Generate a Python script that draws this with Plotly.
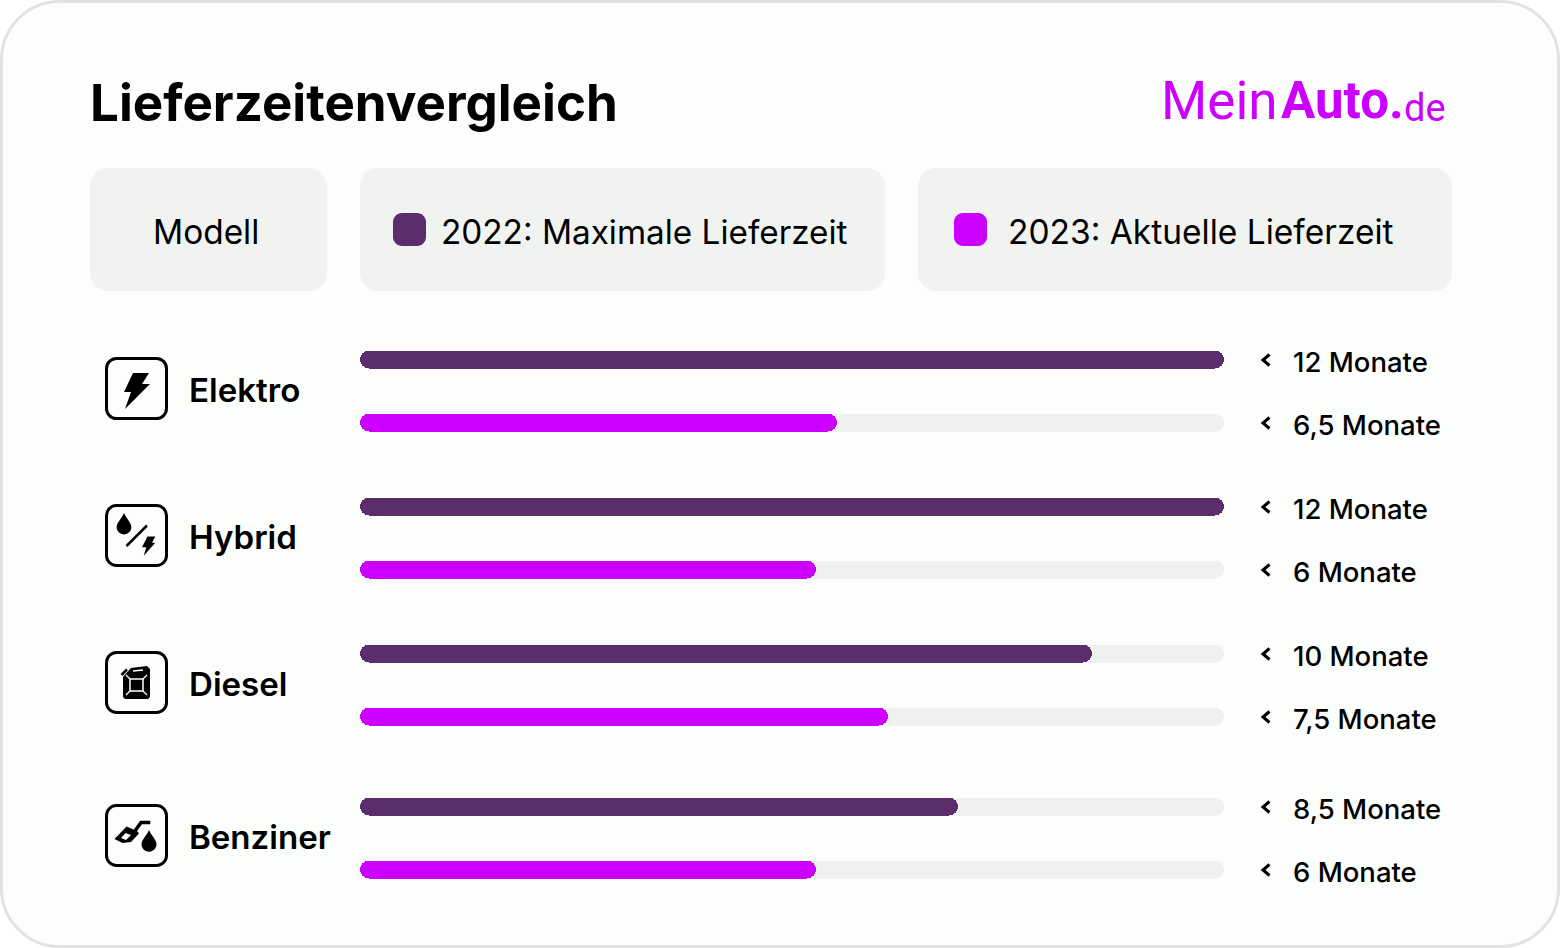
import plotly.graph_objects as go

W = 1560
H = 948

models = ["Elektro", "Hybrid", "Diesel", "Benziner"]
series_2022 = "2022: Maximale Lieferzeit"
series_2023 = "2023: Aktuelle Lieferzeit"
# bar lengths in percent of the grey track, the source does not scale them strictly by month
bars_2022 = [100, 100, 84.7, 69.2]
bars_2023 = [55.2, 52.8, 61.1, 52.8]
track = [100, 100, 100, 100]
labels_2022 = ["12 Monate", "12 Monate", "10 Monate", "8,5 Monate"]
labels_2023 = ["6,5 Monate", "6 Monate", "7,5 Monate", "6 Monate"]

PURPLE = "#5c2d6c"
MAGENTA = "#cc00ff"
TRACK = "#eff1ef"
CARD = "#fcfefc"
HEAD = "#f1f3f1"
BORDER = "#e2e3e1"
FONT = "Inter"
LOGO = "Roboto"


def px(x):
    return x / W


def py(y):
    return 1 - y / H


def path(points, close=True):
    s = "M " + " L ".join(f"{px(x):.5f} {py(y):.5f}" for x, y in points)
    return s + (" Z" if close else "")


def rounded(x0, y0, x1, y1, r):
    # rounded rectangle from pixel corners
    k = 0.45 * r
    seg = [
        ("M", [(x0 + r, y0)]),
        ("L", [(x1 - r, y0)]),
        ("C", [(x1 - k, y0), (x1, y0 + k), (x1, y0 + r)]),
        ("L", [(x1, y1 - r)]),
        ("C", [(x1, y1 - k), (x1 - k, y1), (x1 - r, y1)]),
        ("L", [(x0 + r, y1)]),
        ("C", [(x0 + k, y1), (x0, y1 - k), (x0, y1 - r)]),
        ("L", [(x0, y0 + r)]),
        ("C", [(x0, y0 + k), (x0 + k, y0), (x0 + r, y0)]),
    ]
    out = ""
    for cmd, pts in seg:
        out += cmd + " " + " ".join(f"{px(a):.5f} {py(b):.5f}" for a, b in pts) + " "
    return out + "Z"


def box(x0, y0, x1, y1, r, fill, line=None, lw=0):
    return dict(type="path", xref="paper", yref="paper", path=rounded(x0, y0, x1, y1, r),
                fillcolor=fill, line=dict(color=line or fill, width=lw), layer="below")


def poly(points, ox, oy, fill="black"):
    pts = [(ox + a, oy + b) for a, b in points]
    return dict(type="path", xref="paper", yref="paper", path=path(pts), fillcolor=fill,
                line=dict(width=0), layer="above")


def stroke(points, ox, oy, color="black", lw=3):
    pts = [(ox + a, oy + b) for a, b in points]
    return dict(type="path", xref="paper", yref="paper", path=path(pts, False),
                line=dict(color=color, width=lw), layer="above")


def drop(cx, top, bottom, r, ox, oy):
    # water drop, pixel values relative to the icon box
    mid = bottom - r
    x = ox + cx
    s = f"M {px(x):.5f} {py(oy + top):.5f} "
    s += f"C {px(x - r * 0.3):.5f} {py(oy + top + (mid - top) * 0.4):.5f} {px(x - r):.5f} {py(oy + mid - r * 0.6):.5f} {px(x - r):.5f} {py(oy + mid):.5f} "
    s += f"C {px(x - r):.5f} {py(oy + bottom - r * 0.4):.5f} {px(x - r * 0.5):.5f} {py(oy + bottom):.5f} {px(x):.5f} {py(oy + bottom):.5f} "
    s += f"C {px(x + r * 0.5):.5f} {py(oy + bottom):.5f} {px(x + r):.5f} {py(oy + bottom - r * 0.4):.5f} {px(x + r):.5f} {py(oy + mid):.5f} "
    s += f"C {px(x + r):.5f} {py(oy + mid - r * 0.6):.5f} {px(x + r * 0.3):.5f} {py(oy + top + (mid - top) * 0.4):.5f} {px(x):.5f} {py(oy + top):.5f} Z"
    return dict(type="path", xref="paper", yref="paper", path=s, fillcolor="black", line=dict(width=0))


def icon_elektro(ox, oy):
    return [poly([(27, 15), (43, 15), (36, 26), (44, 26), (19, 51), (25, 34), (18, 34)], ox, oy)]


def icon_hybrid(ox, oy):
    return [
        drop(18, 8, 29.5, 7.4, ox, oy),
        stroke([(20.5, 41), (41, 20.5)], ox, oy, lw=2.5),
        poly([(41.5, 31.5), (49.3, 31.5), (46, 37.7), (49.3, 37.7), (37.7, 50.7), (40.3, 42.3), (36, 42.3)], ox, oy),
    ]


def icon_diesel(ox, oy):
    return [
        poly([(25, 16), (41, 14), (44, 17), (44, 45), (42, 47), (19, 47), (17, 45), (17, 25)], ox, oy),
        stroke([(15.5, 23), (21, 17.5)], ox, oy, lw=2.5),
        stroke([(27, 19), (37, 18)], ox, oy, color="white", lw=1.5),
        stroke([(24, 27), (37, 27), (37, 39), (24, 39), (24, 27)], ox, oy, color="white", lw=1.5),
        stroke([(20, 23), (24, 27)], ox, oy, color="white", lw=1.2),
        stroke([(41, 23), (37, 27)], ox, oy, color="white", lw=1.2),
        stroke([(20, 43), (24, 39)], ox, oy, color="white", lw=1.2),
        stroke([(41, 43), (37, 39)], ox, oy, color="white", lw=1.2),
    ]


def icon_benzin(ox, oy):
    return [
        poly([(8.5, 34), (20.5, 21.5), (31, 26), (33, 28.5), (25, 37), (16.5, 38)], ox, oy),
        poly([(15, 33), (19.5, 28), (25, 30), (20, 35)], ox, oy, fill="white"),
        stroke([(29, 26), (35, 17.5), (44.3, 17.5)], ox, oy, lw=3.5),
        drop(43, 25, 46.7, 7.5, ox, oy),
    ]


# group centres of the two bar rows, pixel layout of the card
group_rows = [359, 506, 653, 806]
icon_tops = [358, 505, 652, 805]
icon_makers = [icon_elektro, icon_hybrid, icon_diesel, icon_benzin]
ROW_GAP = 63
BAR_H = 18

fig = go.Figure()
shapes = [
    box(1.5, 1.5, W - 1.5, H - 1.5, 58, CARD, BORDER, 3),
    box(90, 168, 327, 291, 18, HEAD),
    box(360, 168, 885, 291, 18, HEAD),
    box(918, 168, 1452, 291, 18, HEAD),
    box(393, 213, 426, 246, 9, PURPLE),
    box(954, 213, 987, 246, 9, MAGENTA),
]
annotations = []


def text(x, y, s, size, weight=400, color="black", family=FONT, anchor="left"):
    annotations.append(dict(x=px(x), y=py(y), xref="paper", yref="paper", text=s, showarrow=False,
                            xanchor=anchor, yanchor="middle", align="left",
                            font=dict(family=family, size=size, color=color, weight=weight)))


text(88, 102, "Lieferzeitenvergleich", 51.1, 700)
text(1159, 101, "Mein", 53, 400, MAGENTA, LOGO)
text(1279, 101, "Auto", 51, 700, MAGENTA, LOGO)
text(1387, 101, ".", 51, 700, MAGENTA, LOGO)
text(1402, 108, "de", 38, 400, MAGENTA, LOGO)
text(151, 231.5, "Modell", 33.4)
text(439, 231.5, series_2022, 33.3)
text(1006, 231.5, series_2023, 33.5)


def bar(value, row, color, name, yname):
    # base given as a list so plotly rounds both ends of the bar
    return go.Bar(x=[value], y=[row], base=[0], orientation="h", width=BAR_H / ROW_GAP, yaxis=yname, name=name,
                  marker=dict(color=color, cornerradius=9, line=dict(width=0)), showlegend=False)


layout_axes = {}
for i, model in enumerate(models):
    suffix = "" if i == 0 else str(i + 1)
    yname = "y" + suffix
    # one small axis per model, the upper row is 2022
    top = group_rows[i] - ROW_GAP / 2
    layout_axes["yaxis" + suffix] = dict(
        domain=[py(top + 2 * ROW_GAP), py(top)], range=[-0.5, 1.5], type="linear",
        visible=False, anchor="x", fixedrange=True)
    fig.add_trace(bar(track[i], 1, TRACK, "track", yname))
    fig.add_trace(bar(track[i], 0, TRACK, "track", yname))
    fig.add_trace(bar(bars_2022[i], 1, PURPLE, series_2022, yname))
    fig.add_trace(bar(bars_2023[i], 0, MAGENTA, series_2023, yname))

    rows = group_rows[i]
    text(187, rows + 31, model, 33.1, 600)
    text(1291, rows + 3, labels_2022[i], 27.5, 500)
    text(1291, rows + ROW_GAP + 3, labels_2023[i], 27.5, 500)
    for r in (rows + 1, rows + ROW_GAP + 1):
        shapes.append(stroke([(1269.5, r - 5.5), (1263, r), (1269.5, r + 5.5)], 0, 0, lw=3))

    shapes.append(box(106.5, icon_tops[i] + 0.5, 166.5, icon_tops[i] + 60.5, 10, "rgba(0,0,0,0)", "black", 3))
    shapes += icon_makers[i](106, icon_tops[i])

fig.update_layout(
    width=W, height=H, margin=dict(l=0, r=0, t=0, b=0), autosize=False,
    paper_bgcolor="white", plot_bgcolor="rgba(0,0,0,0)", barmode="overlay", bargap=0,
    xaxis=dict(domain=[px(360), px(1224)], range=[0, 100], visible=False, anchor="y", fixedrange=True),
    shapes=shapes, annotations=annotations, hovermode=False,
    **layout_axes,
)

fig.write_html("out.html", config={"displayModeBar": False},
               post_script="document.body.style.margin='0';document.body.style.overflow='hidden';")
